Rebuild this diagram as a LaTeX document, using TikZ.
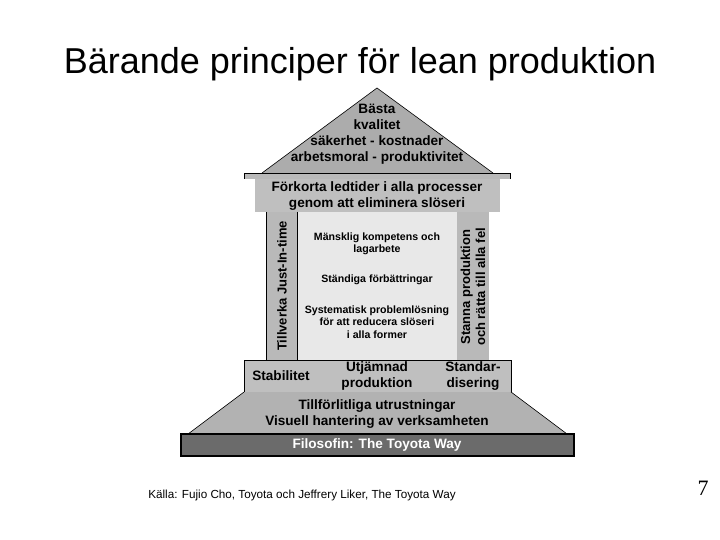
\documentclass[tikz,border=0pt]{standalone}
\usepackage{fontspec}
\setmainfont{Liberation Sans}
\newfontfamily\serifnum{Liberation Serif}
\begin{document}
\begin{tikzpicture}[x=1pt,y=-1pt,
  lbl/.style={font=\bfseries\fontsize{13.6}{16}\selectfont,align=center,inner sep=0pt},
  small/.style={font=\bfseries\fontsize{10.6}{12.5}\selectfont,align=center,inner sep=0pt}]
\useasboundingbox (0,0) rectangle (720,540);
\node (title) at (360,64) {\fontsize{36}{40}\selectfont Bärande principer för lean produktion};
% roof
\fill[gray!65] (262,173) -- (377,88) -- (493,173) -- cycle;
\draw[line width=0.6pt] (262,173) -- (377,88) -- (493,173);
\node[lbl] (roof) at (377,134) {Bästa\\kvalitet\\säkerhet - kostnader\\arbetsmoral - produktivitet};
\fill[gray!55] (244,173) rectangle (510,179);
\draw[line width=0.6pt] (244,179) -- (244,173) -- (510,173) -- (510,179);
\fill[gray!50] (255,179) rectangle (500,212);
\node[lbl] (lintel) at (377,196) {Förkorta ledtider i alla processer\\genom att eliminera slöseri};
% pillars
\fill[gray!18] (297,212) rectangle (457,360);
\fill[gray!55] (266,212) rectangle (297,360);
\fill[gray!55] (457,212) rectangle (489,360);
\draw[line width=0.6pt] (266,212) -- (266,360) (297,212) -- (297,360);
\node[lbl,rotate=90,font=\bfseries\fontsize{13}{15}\selectfont] (jit) at (282,286) {Tillverka Just-In-time};
\node[lbl,rotate=90,font=\bfseries\fontsize{13}{15}\selectfont] (stop) at (473,287) {Stanna produktion\\och rätta till alla fel};
\node[small] (m1) at (377,244) {Mänsklig kompetens och\\lagarbete};
\node[small] (m2) at (377,280) {Ständiga förbättringar};
\node[small] (m3) at (377,322) {Systematisk problemlösning\\för att reducera slöseri\\i alla former};
% base
\draw[fill=gray!50,line width=0.6pt] (244,360) rectangle (511,392);
\node[lbl] (stab) at (281,376) {Stabilitet};
\node[lbl] (utj) at (377,376) {Utjämnad\\produktion};
\node[lbl] (std) at (473,376) {Standar-\\disering};
\fill[gray!60] (244,392) -- (511,392) -- (567,434) -- (188,434) -- cycle;
\draw[line width=0.6pt] (244,392) -- (188,434) (511,392) -- (567,434);
\node[lbl] (tillf) at (377,414) {Tillförlitliga utrustningar\\Visuell hantering av verksamheten};
\draw[fill=black!58,line width=1.2pt] (181,434) rectangle (574,456);
\node[lbl,text=white] (fil) at (377,445) {Filosofin: The Toyota Way};
\node[font=\fontsize{11.7}{14}\selectfont] (src) at (302,495) {Källa: Fujio Cho, Toyota och Jeffrery Liker, The Toyota Way};
\node[font=\serifnum\fontsize{22}{24}\selectfont] (num) at (703,488) {7};
\end{tikzpicture}
\end{document}
